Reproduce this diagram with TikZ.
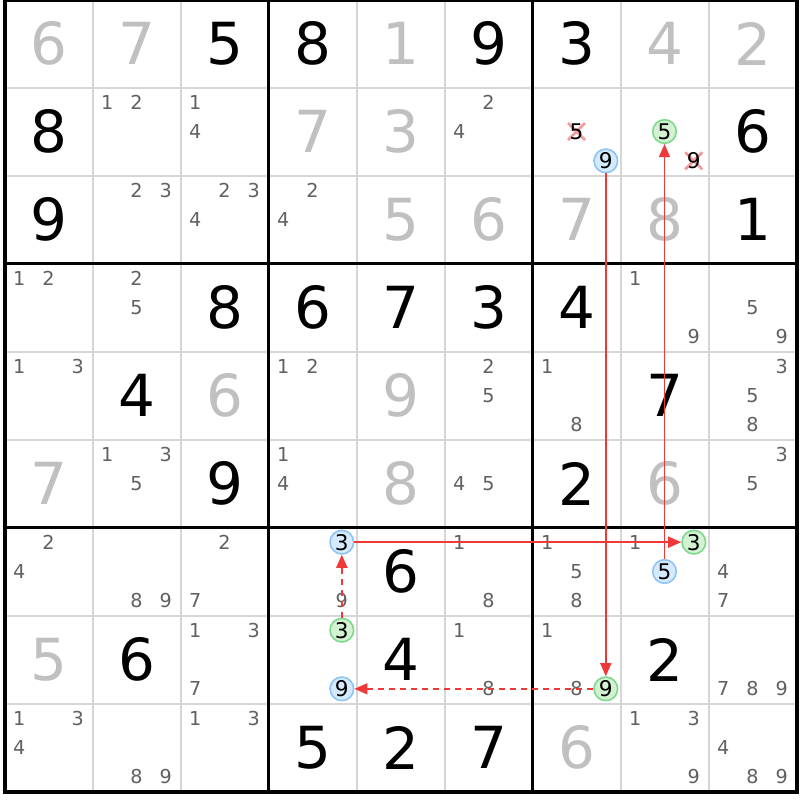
\documentclass[tikz,border=0pt]{standalone}
\usepackage{fontspec}
\setmainfont{DejaVu Sans}
\usetikzlibrary{arrows.meta}
\definecolor{solvedc}{HTML}{C0C0C0}
\definecolor{candc}{HTML}{606060}
\definecolor{thinc}{HTML}{D6D6D6}
\definecolor{bluefill}{HTML}{D6EAFF}
\definecolor{blueline}{HTML}{8EC4F5}
\definecolor{greenfill}{HTML}{D2F2D2}
\definecolor{greenline}{HTML}{7ED98E}
\definecolor{xcol}{HTML}{F29A9A}
\definecolor{linkc}{HTML}{F03838}
\tikzset{
  bigd/.style={inner sep=0pt, font=\fontsize{29}{31}\selectfont},
  candd/.style={inner sep=0pt, text=candc, font=\fontsize{9.6}{11}\selectfont},
  hlbase/.style={circle, inner sep=0pt, minimum size=11.8pt, line width=0.8pt, text=black, font=\fontsize{10.8}{12}\selectfont},
  bluecirc/.style={hlbase, draw=blueline, fill=bluefill},
  greencirc/.style={hlbase, draw=greenline, fill=greenfill},
  xmark/.style={draw=xcol, line width=1.4pt},
  link/.style={draw=linkc, line width=0.75pt, -{Triangle[length=6.5pt,width=5.5pt]}},
  weaklink/.style={link, dash pattern=on 3pt off 2.5pt},
}
% cell centre
\newcommand\giv[3]{\node[bigd] (g#1#2) at ({4.5+(#2-0.5)*88},{-0.5+(#1-0.5)*88}) {#3};}
\newcommand\sol[3]{\node[bigd,text=solvedc] (g#1#2) at ({4.5+(#2-0.5)*88},{-0.5+(#1-0.5)*88}) {#3};}
% candidate position
\newcommand\cpos[3]{({4.5+(#2-1)*88+(2*mod(#3-1,3)+1)*88/6},{-0.5+(#1-1)*88+(2*floor((#3-1)/3)+1)*88/6})}
\newcommand\cnd[3]{\foreach \n in {#3}{\node[candd] (c#1#2\n) at \cpos{#1}{#2}{\n} {\n};}}
\newcommand\bluec[3]{\node[bluecirc] (h#1#2#3) at \cpos{#1}{#2}{#3} {#3};}
\newcommand\greenc[3]{\node[greencirc] (h#1#2#3) at \cpos{#1}{#2}{#3} {#3};}
\newcommand\crossc[3]{%
  \draw[xmark] \cpos{#1}{#2}{#3} +(-8.5,-8.5) -- +(8.5,8.5) +(-8.5,8.5) -- +(8.5,-8.5);
  \node[inner sep=0pt, text=black, font=\fontsize{10.8}{12}\selectfont] (x#1#2#3) at \cpos{#1}{#2}{#3} {#3};}
\begin{document}
\begin{tikzpicture}[x=0.5pt,y=-0.5pt]
\useasboundingbox (0,0) rectangle (800,800);
\fill[white] (0,0) rectangle (800,800);
% thin grid lines
\foreach \k in {1,2,4,5,7,8}{
  \draw[thinc, line width=1pt] ({4.5+\k*88},-0.5) -- ({4.5+\k*88},791.5);
  \draw[thinc, line width=1pt] (4.5,{-0.5+\k*88}) -- (796.5,{-0.5+\k*88});
}
\foreach \k in {3,6}{
  \draw[black, line width=1.5pt] ({4.5+\k*88},-0.5) -- ({4.5+\k*88},791.5);
  \draw[black, line width=1.5pt] (4.5,{-0.5+\k*88}) -- (796.5,{-0.5+\k*88});
}
\draw[black, line width=2pt] (4.5,-0.5) rectangle (796.5,791.5);
% givens
\giv13{5}\giv14{8}\giv16{9}\giv17{3}
\giv21{8}\giv29{6}
\giv31{9}\giv39{1}
\giv43{8}\giv44{6}\giv45{7}\giv46{3}\giv47{4}
\giv52{4}\giv58{7}
\giv63{9}\giv67{2}
\giv75{6}
\giv82{6}\giv85{4}\giv88{2}
\giv94{5}\giv95{2}\giv96{7}
% solved
\sol11{6}\sol12{7}\sol15{1}\sol18{4}\sol19{2}
\sol24{7}\sol25{3}
\sol35{5}\sol36{6}\sol37{7}\sol38{8}
\sol53{6}\sol55{9}
\sol61{7}\sol65{8}\sol68{6}
\sol81{5}
\sol97{6}
% candidates
\cnd22{1,2}\cnd23{1,4}\cnd26{2,4}
\cnd32{2,3}\cnd33{2,3,4}\cnd34{2,4}
\cnd41{1,2}\cnd42{2,5}\cnd48{1,9}\cnd49{5,9}
\cnd51{1,3}\cnd54{1,2}\cnd56{2,5}\cnd57{1,8}\cnd59{3,5,8}
\cnd62{1,3,5}\cnd64{1,4}\cnd66{4,5}\cnd69{3,5}
\cnd71{2,4}\cnd72{8,9}\cnd73{2,7}\cnd74{9}\cnd76{1,8}\cnd77{1,5,8}\cnd78{1}\cnd79{4,7}
\cnd83{1,3,7}\cnd86{1,8}\cnd87{1,8}\cnd89{7,8,9}
\cnd91{1,3,4}\cnd92{8,9}\cnd93{1,3}\cnd98{1,3,9}\cnd99{4,8,9}
% crossed candidates
\crossc275
\crossc289
% highlighted candidates
\bluec279
\greenc285
\bluec743
\greenc783
\bluec785
\greenc843
\bluec849
\greenc879
% links
\draw[link] (h279) -- (h879);
\draw[link] (h785) -- (h285);
\draw[link] (h743) -- (h783);
\draw[weaklink] (h879) -- (h849);
\draw[weaklink] (h843) -- (h743);
\end{tikzpicture}
\end{document}
